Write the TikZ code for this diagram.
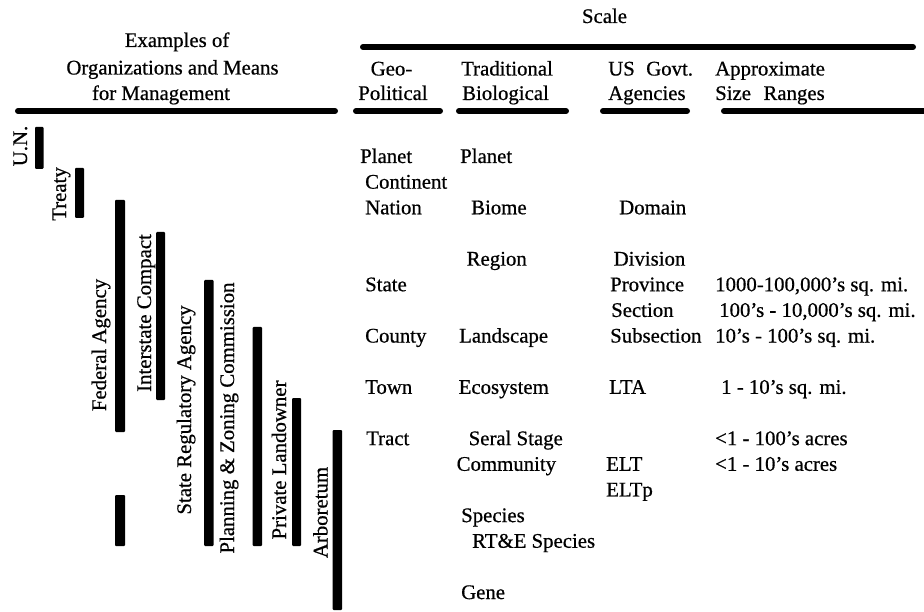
\documentclass[tikz,border=0pt]{standalone}
\usepackage{fontspec}
\setmainfont[FakeBold=0.6,BoldFont={Liberation Serif}]{Liberation Serif}
\begin{document}
\begin{tikzpicture}[x=1pt,y=-1pt,
  txt/.style={inner sep=0pt, anchor=base west, font=\fontsize{20.8}{24}\selectfont\bfseries},
  ctxt/.style={txt, anchor=base},
  rlab/.style={inner sep=0pt, anchor=base, rotate=90, font=\fontsize{20.8}{24}\selectfont\bfseries},
  hrule/.style={line width=6pt, line cap=round},
  bar/.style={fill=black, rounded corners=1pt}]
\useasboundingbox (0,0) rectangle (924,612);

% ---------- headers ----------
\node[ctxt] (hex1) at (177,47) {Examples of};
\node[ctxt] (hex2) at (172.5,74.5) {Organizations and Means};
\node[ctxt] (hex3) at (161,100) {for Management};
\node[ctxt] (hscale) at (604.5,23) {Scale};
\node[ctxt] (hgeo1) at (391.5,75.5) {Geo-};
\node[ctxt] (hgeo2) at (393,100) {Political};
\node[txt] (htr1) at (461,75.5) {Traditional};
\node[txt] (htr2) at (462,100) {Biological};
\node[txt] (hus1) at (608,75.5) {US\hspace{0.55em}Govt.};
\node[txt] (hus2) at (608,100) {Agencies};
\node[txt] (hsz1) at (715,75.5) {Approximate};
\node[txt] (hsz2) at (715,100) {Size\hspace{0.6em}Ranges};

\draw[hrule] (18,111) -- (335,111);
\draw[hrule] (363,47) -- (913,47);
\draw[hrule] (356,111) -- (440,111);
\draw[hrule] (459,111) -- (566,111);
\draw[hrule] (603,111) -- (687,111);
\draw[hrule] (724,111) -- (930,111);

% ---------- bars ----------
\fill[bar] (35,127) rectangle (43.5,169);
\fill[bar] (75,168) rectangle (84,218);
\fill[bar] (115,200) rectangle (125,432);
\fill[bar] (115,495) rectangle (125,546);
\fill[bar] (156,232) rectangle (165,400);
\fill[bar] (204,280) rectangle (213.5,546);
\fill[bar] (252.5,327) rectangle (262,546);
\fill[bar] (292,398) rectangle (301,546);
\fill[bar] (332.5,430) rectangle (342,610);

% ---------- rotated labels ----------
\node[rlab] (lun) at (27,146) {U.N.};
\node[rlab] (ltreaty) at (66,194) {Treaty};
\node[rlab] (lfed) at (106,345) {Federal Agency};
\node[rlab] (linter) at (151,313) {Interstate Compact};
\node[rlab] (lstate) at (191,410) {State Regulatory Agency};
\node[rlab] (lplan) at (234,418) {Planning \& Zoning Commission};
\node[rlab] (lpriv) at (286,460) {Private Landowner};
\node[rlab] (larb) at (327.5,512.5) {Arboretum};

% ---------- rows (baseline = 163 + 25.65 k) ----------
% Geo-Political
\node[txt] (g0) at (360,163) {Planet};
\node[txt] (g1) at (365,188.65) {Continent};
\node[txt] (g2) at (365,214.3) {Nation};
\node[txt] (g5) at (365,291.25) {State};
\node[txt] (g7) at (365,342.55) {County};
\node[txt] (g9) at (365,393.85) {Town};
\node[txt] (g11) at (366,445.15) {Tract};
% Traditional Biological
\node[txt] (t0) at (460,163) {Planet};
\node[txt] (t2) at (471,214.3) {Biome};
\node[txt] (t4) at (466.5,265.6) {Region};
\node[txt] (t7) at (459,342.55) {Landscape};
\node[txt] (t9) at (458.5,393.85) {Ecosystem};
\node[txt] (t11) at (468.5,445.15) {Seral Stage};
\node[txt] (t12) at (456.5,470.8) {Community};
\node[txt] (t14) at (461,522.1) {Species};
\node[txt] (t15) at (472,547.75) {RT\&E Species};
\node[txt] (t17) at (461,599.05) {Gene};
% US Govt. Agencies
\node[txt] (u2) at (619,214.3) {Domain};
\node[txt] (u4) at (613.5,265.6) {Division};
\node[txt] (u5) at (610,291.25) {Province};
\node[txt] (u6) at (611,316.9) {Section};
\node[txt] (u7) at (610,342.55) {Subsection};
\node[txt] (u9) at (609,393.85) {LTA};
\node[txt] (u12) at (606,470.8) {ELT};
\node[txt] (u13) at (606,496.45) {ELTp};
% Size ranges
\node[txt] (s5) at (715,291.25) {1000-100,000's sq. mi.};
\node[txt] (s6) at (719,316.9) {100's - 10,000's sq. mi.};
\node[txt] (s7) at (715,342.55) {10's - 100's sq. mi.};
\node[txt] (s9) at (721,393.85) {1 - 10's sq. mi.};
\node[txt] (s11) at (715,445.15) {<1 - 100's acres};
\node[txt] (s12) at (715,470.8) {<1 - 10's acres};
\end{tikzpicture}
\end{document}
